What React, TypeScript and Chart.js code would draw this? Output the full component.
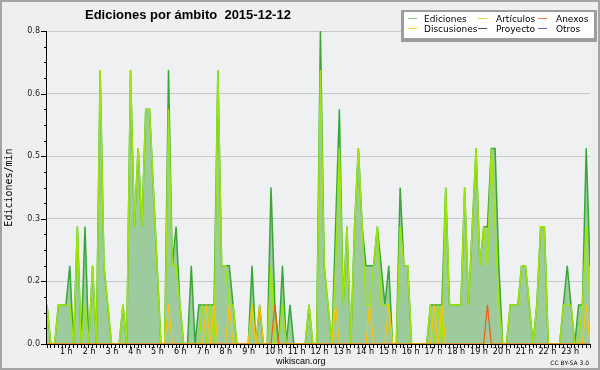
import React, { useEffect, useRef } from 'react';
import { Chart, registerables } from 'chart.js';

Chart.register(...registerables);

const TITLE = 'Ediciones por ámbito  2015-12-12';
const Y_TITLE = 'Ediciones/min';
const FOOTER_LEFT = 'wikiscan.org';
const FOOTER_RIGHT = 'CC BY-SA 3.0';

// one value per 10-minute bin (first bin ends at 00:10), one row per hour
const BIN_MINUTES = 10;

const ediciones = [
  0.1, 0, 0, 0.1, 0.1, 0.1,
  0.2, 0, 0.3, 0, 0.3, 0,
  0.2, 0, 0.7, 0.2, 0.1, 0,
  0, 0, 0.1, 0, 0.7, 0.3,
  0.5, 0.3, 0.6, 0.6, 0.4, 0.2,
  0, 0, 0.7, 0.2, 0.3, 0.1,
  0, 0, 0.2, 0, 0.1, 0.1,
  0.1, 0.1, 0.1, 0.7, 0.2, 0.2,
  0.2, 0.1, 0, 0, 0, 0,
  0.2, 0, 0.1, 0, 0, 0.4,
  0.1, 0, 0.2, 0, 0.1, 0,
  0, 0, 0, 0.1, 0, 0,
  0.8, 0.2, 0.1, 0, 0.3, 0.6,
  0.1, 0.3, 0, 0.3, 0.5, 0.3,
  0.2, 0.2, 0.2, 0.3, 0.2, 0.1,
  0.2, 0, 0, 0.4, 0.2, 0.2,
  0, 0, 0, 0, 0, 0.1,
  0.1, 0.1, 0.1, 0.4, 0.1, 0.1,
  0.1, 0.1, 0.4, 0.1, 0.3, 0.5,
  0.2, 0.3, 0.3, 0.5, 0.5, 0.2,
  0, 0, 0.1, 0.1, 0.1, 0.2,
  0.2, 0.1, 0, 0.1, 0.3, 0.3,
  0, 0, 0, 0, 0.1, 0.2,
  0.1, 0, 0.1, 0.1, 0.5, 0.2,
];

const articulos = [
  0.1, 0, 0, 0.1, 0.1, 0.1,
  0.1, 0, 0.3, 0, 0.1, 0,
  0.2, 0, 0.7, 0.2, 0.1, 0,
  0, 0, 0.1, 0, 0.7, 0.3,
  0.5, 0.3, 0.6, 0.6, 0.4, 0.2,
  0, 0, 0.6, 0.2, 0.2, 0.1,
  0, 0, 0, 0, 0, 0.1,
  0, 0.1, 0, 0.7, 0.2, 0.2,
  0.1, 0.1, 0, 0, 0, 0,
  0.1, 0, 0, 0, 0, 0.2,
  0, 0, 0.1, 0, 0, 0,
  0, 0, 0, 0.1, 0, 0,
  0.7, 0.2, 0.1, 0, 0.2, 0.5,
  0.1, 0.3, 0, 0.3, 0.5, 0.3,
  0.1, 0.1, 0.2, 0.3, 0.1, 0.1,
  0.1, 0, 0, 0.3, 0.2, 0.2,
  0, 0, 0, 0, 0, 0.1,
  0, 0.1, 0, 0.4, 0.1, 0.1,
  0.1, 0.1, 0.4, 0.1, 0.3, 0.5,
  0.2, 0.3, 0.2, 0.5, 0.3, 0.1,
  0, 0, 0.1, 0.1, 0.1, 0.2,
  0.2, 0.1, 0, 0.1, 0.3, 0.3,
  0, 0, 0, 0, 0.1, 0.1,
  0.1, 0, 0, 0.1, 0.3, 0.1,
];

const discusiones = [
  0, 0, 0, 0, 0, 0,
  0, 0, 0, 0, 0, 0,
  0, 0, 0, 0, 0, 0,
  0, 0, 0, 0, 0, 0,
  0, 0, 0, 0, 0, 0,
  0, 0, 0.1, 0, 0, 0,
  0, 0, 0, 0, 0, 0,
  0.1, 0, 0.1, 0, 0, 0,
  0.1, 0, 0, 0, 0, 0,
  0.1, 0, 0.1, 0, 0, 0,
  0, 0, 0, 0, 0, 0,
  0, 0, 0, 0, 0, 0,
  0, 0, 0, 0, 0.1, 0,
  0, 0, 0, 0, 0, 0,
  0, 0.1, 0, 0, 0, 0,
  0.1, 0, 0, 0, 0, 0,
  0, 0, 0, 0, 0, 0,
  0.1, 0, 0.1, 0, 0, 0,
  0, 0, 0, 0, 0, 0,
  0, 0, 0, 0, 0, 0,
  0, 0, 0, 0, 0, 0,
  0, 0, 0, 0, 0, 0,
  0, 0, 0, 0, 0, 0,
  0, 0, 0, 0, 0.1, 0,
];

const anexos = [
  0, 0, 0, 0, 0, 0,
  0, 0, 0, 0, 0, 0,
  0, 0, 0, 0, 0, 0,
  0, 0, 0, 0, 0, 0,
  0, 0, 0, 0, 0, 0,
  0, 0, 0, 0, 0, 0,
  0, 0, 0, 0, 0, 0,
  0, 0, 0, 0, 0, 0,
  0, 0, 0, 0, 0, 0,
  0, 0, 0, 0, 0, 0,
  0.1, 0, 0, 0, 0, 0,
  0, 0, 0, 0, 0, 0,
  0, 0, 0, 0, 0, 0,
  0, 0, 0, 0, 0, 0,
  0, 0, 0, 0, 0, 0,
  0, 0, 0, 0, 0, 0,
  0, 0, 0, 0, 0, 0,
  0, 0, 0, 0, 0, 0,
  0, 0, 0, 0, 0, 0,
  0, 0, 0.1, 0, 0, 0,
  0, 0, 0, 0, 0, 0,
  0, 0, 0, 0, 0, 0,
  0, 0, 0, 0, 0, 0,
  0, 0, 0, 0, 0, 0,
];

// legend (row-major, 3 columns)
const legendNames = ['Ediciones', 'Artículos', 'Anexos', 'Discusiones', 'Proyecto', 'Otros'];
const legendColors = ['#7cc87c', '#bde83a', '#f77a45', '#ffcf40', '#4a4a4a', '#8a4cf0'];

const Y_MAX = 0.8;
const Y_STEP = 0.04;
const X_MIN = 10;
const X_MAX = 1440;

const toPoints = (arr: number[]) => arr.map((v, i) => ({ x: (i + 1) * BIN_MINUTES, y: v }));

const decorPlugin = {
  id: 'decor',
  beforeDraw(chart: any) {
    const { ctx, chartArea } = chart;
    ctx.save();
    ctx.fillStyle = '#efefef';
    ctx.fillRect(0, 0, chart.width, chart.height);
    ctx.fillStyle = '#eef0f2';
    ctx.fillRect(chartArea.left, chartArea.top, chartArea.right - chartArea.left, chartArea.bottom - chartArea.top);
    ctx.restore();
  },
  afterDraw(chart: any) {
    const { ctx, chartArea } = chart;
    const ys = chart.scales.y;
    ctx.save();
    // left axis line and ticks
    ctx.strokeStyle = '#000';
    ctx.lineWidth = 1;
    ctx.beginPath();
    ctx.moveTo(chartArea.left - 0.5, chartArea.top);
    ctx.lineTo(chartArea.left - 0.5, chartArea.bottom + 1);
    ys.ticks.forEach((t: any, k: number) => {
      const py = Math.round(ys.getPixelForValue(t.value)) + 0.5;
      const len = k % 4 === 0 ? 6 : 3;
      ctx.moveTo(chartArea.left - len, py);
      ctx.lineTo(chartArea.left, py);
    });
    ctx.stroke();

    // title
    ctx.fillStyle = '#000';
    ctx.textBaseline = 'alphabetic';
    ctx.textAlign = 'left';
    ctx.font = 'bold 13px "Liberation Sans"';
    ctx.fillText(TITLE, 85, 19);

    // legend
    ctx.fillStyle = '#9c9c9c';
    ctx.fillRect(401, 10, 196, 32);
    ctx.fillStyle = '#ffffff';
    ctx.fillRect(404, 12, 190, 26);
    const lineX = [408, 478, 538];
    const textX = [424, 496, 556];
    const rowY = [18.5, 28.5];
    ctx.font = '9px "DejaVu Sans"';
    legendNames.forEach((name, k) => {
      const c = k % 3;
      const r = Math.floor(k / 3);
      ctx.strokeStyle = legendColors[k];
      ctx.lineWidth = 1;
      ctx.beginPath();
      ctx.moveTo(lineX[c], rowY[r]);
      ctx.lineTo(lineX[c] + 9, rowY[r]);
      ctx.stroke();
      ctx.fillStyle = '#000';
      ctx.fillText(name, textX[c], rowY[r] + 3.5);
    });

    // footer
    ctx.fillStyle = '#000';
    ctx.font = '9px "Liberation Sans"';
    ctx.textAlign = 'left';
    ctx.fillText(FOOTER_LEFT, 276, 364);
    ctx.font = '6px "DejaVu Sans"';
    ctx.textAlign = 'right';
    ctx.fillText(FOOTER_RIGHT, 589, 364.5);

    // frame
    ctx.strokeStyle = '#a4a4a4';
    ctx.lineWidth = 2;
    ctx.strokeRect(1, 1, chart.width - 2, chart.height - 2);
    ctx.restore();
  },
};

export default function App() {
  const ref = useRef<HTMLCanvasElement | null>(null);

  useEffect(() => {
    document.body.style.margin = '0';
    const canvas = ref.current;
    if (!canvas) return;
    const chart = new Chart(canvas, {
      type: 'line',
      data: {
        datasets: [
          {
            label: 'Ediciones',
            data: toPoints(ediciones),
            borderColor: '#36a836',
            backgroundColor: '#9ecb9e',
            fill: 'origin',
            borderWidth: 1.5,
            pointRadius: 0,
            tension: 0,
            order: 3,
          },
          {
            label: 'Artículos',
            data: toPoints(articulos),
            borderColor: '#9ee60a',
            fill: false,
            borderWidth: 1.5,
            pointRadius: 0,
            tension: 0,
            order: 2,
          },
          {
            label: 'Discusiones',
            data: toPoints(discusiones),
            borderColor: '#ffc300',
            fill: false,
            borderWidth: 1.2,
            pointRadius: 0,
            tension: 0,
            order: 1,
          },
          {
            label: 'Anexos',
            data: toPoints(anexos),
            borderColor: '#f25c14',
            fill: false,
            borderWidth: 1.2,
            pointRadius: 0,
            tension: 0,
            order: 0,
          },
        ],
      },
      options: {
        responsive: false,
        animation: false,
        devicePixelRatio: 1,
        events: [],
        layout: { padding: { left: 0, top: 31, right: 10, bottom: 0 } },
        plugins: {
          legend: { display: false },
          title: { display: false },
          tooltip: { enabled: false },
        },
        scales: {
          x: {
            type: 'linear',
            min: X_MIN,
            max: X_MAX,
            position: 'bottom',
            z: 1,
            grid: {
              drawOnChartArea: false,
              drawTicks: true,
              tickLength: 4,
              tickColor: '#000',
              color: '#000',
              lineWidth: 1,
            },
            border: { display: true, color: '#000', width: 1 },
            ticks: {
              stepSize: BIN_MINUTES,
              autoSkip: false,
              maxRotation: 0,
              minRotation: 0,
              align: 'start',
              labelOffset: -6,
              padding: -1,
              color: '#000',
              font: { family: 'DejaVu Sans', size: 8 },
              callback: (v: any) => {
                const m = Number(v);
                return m % 60 === 0 && m < X_MAX ? `${m / 60} h` : '';
              },
            },
            afterFit: (s: any) => {
              s.height = 26;
            },
          },
          y: {
            type: 'linear',
            min: 0,
            max: Y_MAX,
            grid: {
              drawTicks: false,
              lineWidth: 1,
              color: (c: any) => (c.index > 0 && c.index % 4 === 0 ? '#c9c9c9' : 'rgba(0,0,0,0)'),
            },
            border: { display: false },
            ticks: {
              stepSize: Y_STEP,
              autoSkip: false,
              padding: 7,
              color: '#222',
              font: { family: 'DejaVu Sans', size: 8 },
              callback: (v: any, i: number) => (i % 4 === 0 ? Number(v).toFixed(1) : ''),
            },
            title: {
              display: true,
              text: Y_TITLE,
              color: '#000',
              font: { family: 'DejaVu Sans Mono', size: 10 },
              padding: { top: 3, bottom: 0 },
            },
            afterFit: (s: any) => {
              s.width = 47;
            },
          },
        },
      } as any,
      plugins: [decorPlugin],
    });
    return () => chart.destroy();
  }, []);

  return (
    <div style={{ position: 'absolute', left: 0, top: 0, width: 600, height: 370 }}>
      <canvas ref={ref} width={600} height={370} style={{ display: 'block', width: 600, height: 370 }} />
    </div>
  );
}
